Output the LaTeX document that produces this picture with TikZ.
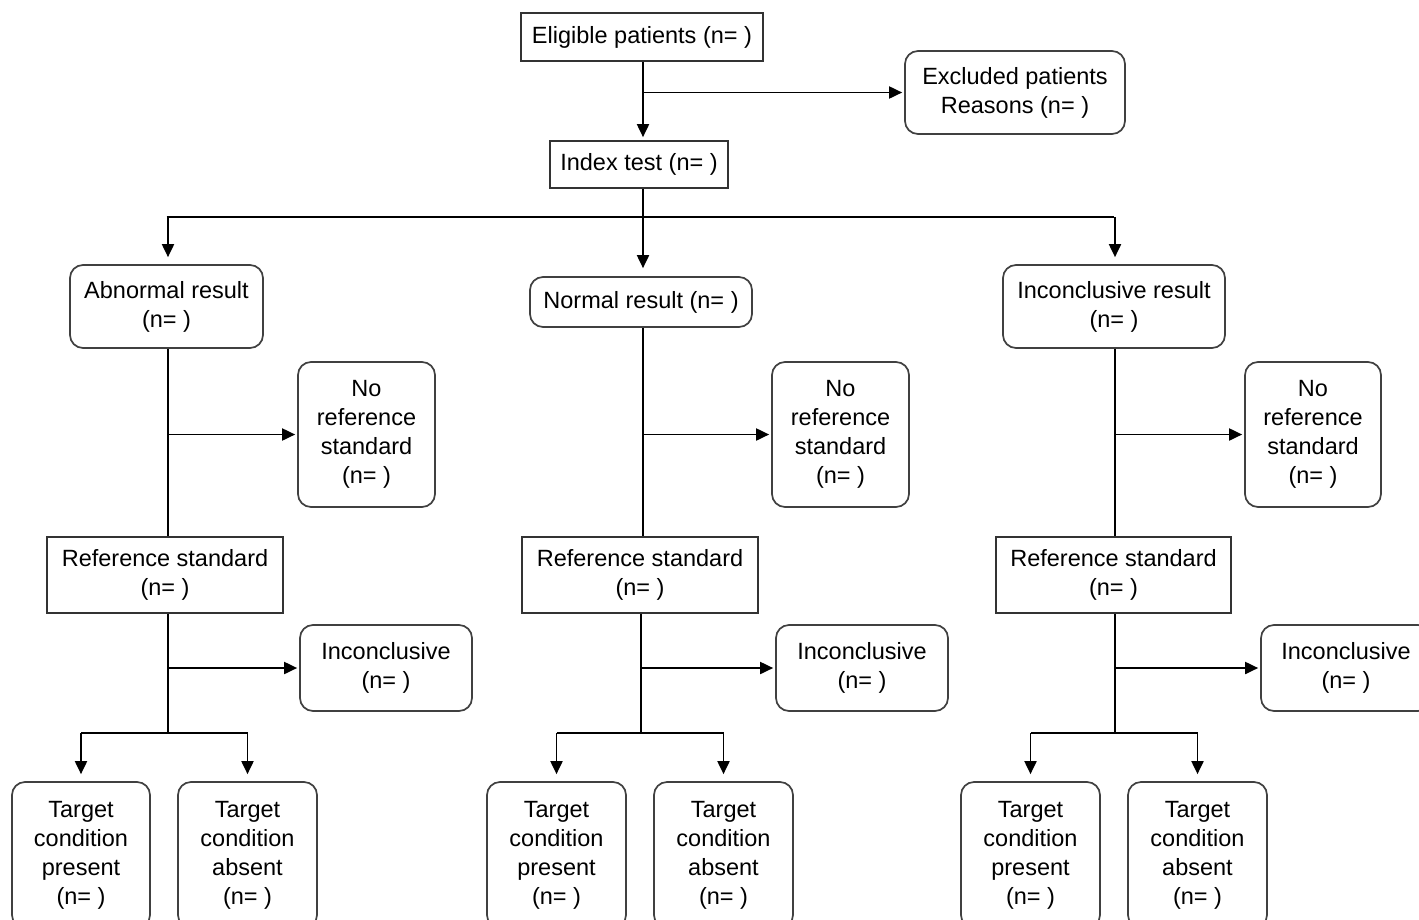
\documentclass[tikz,border=0pt]{standalone}
\usepackage{fontspec}
\setmainfont{Liberation Sans}
\usetikzlibrary{arrows.meta}
\begin{document}
\begin{tikzpicture}[x=1pt,y=-1pt,
  every node/.style={font=\fontsize{23.5pt}{29pt}\selectfont, align=center, inner sep=0pt},
  sq/.style={draw=black!80, line width=1.7pt},
  rb/.style={draw=black!75, line width=1.7pt, rounded corners=13pt},
  ln/.style={line width=1.9pt},
  ar/.style={line width=1.9pt, -{Triangle[length=13pt,width=12pt]}},
]
\useasboundingbox (0,0) rectangle (1419,919);
\clip (0,0) rectangle (1419,919);

% nodes
\node[sq, minimum width=242pt, minimum height=48pt] (elig) at (642,37) {Eligible patients (n= )};
\node[rb, minimum width=220pt, minimum height=83pt] (exc) at (1015,92.5) {Excluded patients\\Reasons (n= )};
\node[sq, minimum width=178pt, minimum height=47pt] (index) at (639,164.5) {Index test (n= )};

\node[rb, minimum width=193pt, minimum height=83pt] (abn) at (166.5,306.5) {Abnormal result\\(n= )};
\node[rb, minimum width=222pt, minimum height=50pt] (norm) at (641,302) {Normal result (n= )};
\node[rb, minimum width=222pt, minimum height=83pt] (incr) at (1114,306.5) {Inconclusive result\\(n= )};

\node[rb, minimum width=137pt, minimum height=145pt] (nr1) at (366.5,434.5) {No\\reference\\standard\\(n= )};
\node[rb, minimum width=137pt, minimum height=145pt] (nr2) at (840.5,434.5) {No\\reference\\standard\\(n= )};
\node[rb, minimum width=136pt, minimum height=145pt] (nr3) at (1313,434.5) {No\\reference\\standard\\(n= )};

\node[sq, minimum width=236pt, minimum height=76pt] (rs1) at (165,575) {Reference standard\\(n= )};
\node[sq, minimum width=236pt, minimum height=76pt] (rs2) at (640,575) {Reference standard\\(n= )};
\node[sq, minimum width=235pt, minimum height=76pt] (rs3) at (1113.5,575) {Reference standard\\(n= )};

\node[rb, minimum width=172pt, minimum height=86pt] (ic1) at (386,668) {Inconclusive\\(n= )};
\node[rb, minimum width=172pt, minimum height=86pt] (ic2) at (862,668) {Inconclusive\\(n= )};
\node[rb, minimum width=170pt, minimum height=86pt] (ic3) at (1346,668) {Inconclusive\\(n= )};

\node[rb, minimum width=138pt, minimum height=146pt] (tp1) at (81,855) {Target\\condition\\present\\(n= )};
\node[rb, minimum width=139pt, minimum height=146pt] (ta1) at (247.5,855) {Target\\condition\\absent\\(n= )};
\node[rb, minimum width=139pt, minimum height=146pt] (tp2) at (556.5,855) {Target\\condition\\present\\(n= )};
\node[rb, minimum width=139pt, minimum height=146pt] (ta2) at (723.5,855) {Target\\condition\\absent\\(n= )};
\node[rb, minimum width=139pt, minimum height=146pt] (tp3) at (1030.5,855) {Target\\condition\\present\\(n= )};
\node[rb, minimum width=139pt, minimum height=146pt] (ta3) at (1197.5,855) {Target\\condition\\absent\\(n= )};

% column coordinates
\coordinate (c0) at (643,0);
\coordinate (split) at (643,217);
\coordinate (c1) at (168,0);
\coordinate (c2) at (643,0);
\coordinate (c2b) at (641,0);
\coordinate (c3) at (1115,0);
\coordinate (b1) at (168,733);
\coordinate (b2) at (641,733);
\coordinate (b3) at (1115,733);

% top
\draw[ar, shorten >=3pt] (elig.south -| c0) -- (index.north -| c0);
\draw[ar, shorten >=2pt] (c0 |- exc.west) -- (exc.west);
\draw[ln] (index.south -| c0) -- (split);
\draw[ln] (split -| abn.north) -- (split -| incr.north);
\draw[ar, shorten >=7pt] (split -| c1) -- (abn.north -| c1);
\draw[ar, shorten >=8pt] (split) -- (norm.north -| c2);
\draw[ar, shorten >=7pt] (split -| c3) -- (incr.north -| c3);

% columns
\draw[ln] (abn.south -| c1) -- (rs1.north -| c1);
\draw[ln] (norm.south -| c2) -- (rs2.north -| c2);
\draw[ln] (incr.south -| c3) -- (rs3.north -| c3);
\draw[ar, shorten >=2pt] (c1 |- nr1.west) -- (nr1.west);
\draw[ar, shorten >=2pt] (c2 |- nr2.west) -- (nr2.west);
\draw[ar, shorten >=2pt] (c3 |- nr3.west) -- (nr3.west);

\draw[ln] (rs1.south -| c1) -- (b1);
\draw[ln] (rs2.south -| c2b) -- (b2);
\draw[ln] (rs3.south -| c3) -- (b3);
\draw[ar, shorten >=2pt] (c1 |- ic1.west) -- (ic1.west);
\draw[ar, shorten >=2pt] (c2b |- ic2.west) -- (ic2.west);
\draw[ar, shorten >=2pt] (c3 |- ic3.west) -- (ic3.west);

% bottom splits
\draw[ln] (b1 -| tp1.north) -- (b1 -| ta1.north);
\draw[ln] (b2 -| tp2.north) -- (b2 -| ta2.north);
\draw[ln] (b3 -| tp3.north) -- (b3 -| ta3.north);
\draw[ar, shorten >=7pt] (b1 -| tp1.north) -- (tp1.north);
\draw[ar, shorten >=7pt] (b1 -| ta1.north) -- (ta1.north);
\draw[ar, shorten >=7pt] (b2 -| tp2.north) -- (tp2.north);
\draw[ar, shorten >=7pt] (b2 -| ta2.north) -- (ta2.north);
\draw[ar, shorten >=7pt] (b3 -| tp3.north) -- (tp3.north);
\draw[ar, shorten >=7pt] (b3 -| ta3.north) -- (ta3.north);
\end{tikzpicture}
\end{document}
